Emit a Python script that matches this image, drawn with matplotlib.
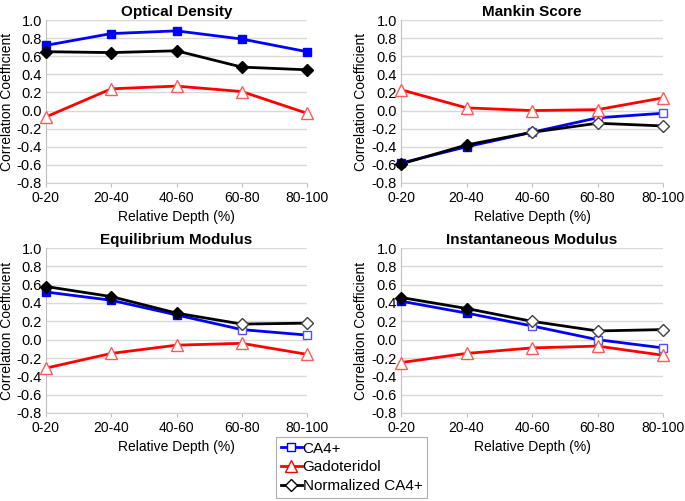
import matplotlib
matplotlib.use("Agg")
import matplotlib.pyplot as plt
from matplotlib.lines import Line2D

plt.rcParams['font.family'] = ['Liberation Sans', 'DejaVu Sans']

categories = ["0-20", "20-40", "40-60", "60-80", "80-100"]
titles = ["Optical Density", "Mankin Score", "Equilibrium Modulus", "Instantaneous Modulus"]

# values per panel
ca4 = [
    [0.72, 0.85, 0.88, 0.79, 0.65],
    [-0.58, -0.40, -0.24, -0.08, -0.03],
    [0.52, 0.43, 0.27, 0.11, 0.05],
    [0.42, 0.29, 0.15, 0.00, -0.09],
]
gado = [
    [-0.07, 0.24, 0.27, 0.21, -0.03],
    [0.23, 0.03, 0.00, 0.01, 0.14],
    [-0.31, -0.15, -0.06, -0.04, -0.16],
    [-0.25, -0.15, -0.09, -0.07, -0.17],
]
norm = [
    [0.65, 0.64, 0.66, 0.48, 0.45],
    [-0.59, -0.38, -0.24, -0.14, -0.17],
    [0.58, 0.47, 0.29, 0.17, 0.18],
    [0.46, 0.34, 0.20, 0.095, 0.11],
]
# significance (filled marker) flags
ca4_sig = [
    [1, 1, 1, 1, 1],
    [1, 1, 0, 0, 0],
    [1, 1, 1, 0, 0],
    [1, 1, 0, 0, 0],
]
gado_sig = [
    [0, 0, 0, 0, 0],
    [0, 0, 0, 0, 0],
    [0, 0, 0, 0, 0],
    [0, 0, 0, 0, 0],
]
norm_sig = [
    [1, 1, 1, 1, 1],
    [1, 1, 0, 0, 0],
    [1, 1, 1, 0, 0],
    [1, 1, 0, 0, 0],
]
yticks = [-0.8, -0.6, -0.4, -0.2, 0.0, 0.2, 0.4, 0.6, 0.8, 1.0]
legend_labels = ["CA4+", "Gadoteridol", "Normalized CA4+"]

W, H = 685, 501
fig = plt.figure(figsize=(W / 100, H / 100), dpi=100)

boxes = [
    (46, 20, 307, 183),
    (401, 20, 663, 183),
    (46, 248, 307, 413),
    (401, 248, 663, 413),
]

series_style = [
    # (color, marker, open-edge colour, size, zorder)
    ("#0000ff", "s", "#5050ff", 5.2, 3),
    ("#ff0000", "^", "#ff5a5a", 8, 3),
    ("#000000", "D", "#404040", 5.8, 4),
]

for i, (l, t, r, b) in enumerate(boxes):
    ax = fig.add_axes([l / W, 1 - b / H, (r - l) / W, (b - t) / H])
    x = list(range(len(categories)))
    for (vals, sig), (col, mk, ecol, ms, z) in zip(
        [(ca4[i], ca4_sig[i]), (gado[i], gado_sig[i]), (norm[i], norm_sig[i])],
        series_style,
    ):
        ax.plot(x, vals, color=col, lw=2, zorder=z)
        for xi, v, s in zip(x, vals, sig):
            if s:
                ax.plot(xi, v, marker=mk, ms=ms, mfc=col, mec=col, zorder=z + 0.5, clip_on=False)
            else:
                ax.plot(xi, v, marker=mk, ms=ms, mfc="white", mec=ecol, mew=1.0, zorder=z + 0.5, clip_on=False)
    ax.set_xlim(0, 4)
    ax.set_ylim(-0.8, 1.0)
    ax.set_yticks(yticks)
    ax.set_yticklabels([f"{v:.1f}" for v in yticks])
    ax.set_xticks(x)
    ax.set_xticklabels(categories)
    ax.tick_params(axis="y", length=0, labelsize=10.5, pad=3, colors="black")
    ax.tick_params(axis="x", length=3, width=0.8, color="#bfbfbf", labelsize=10, pad=3, labelcolor="black")
    ax.grid(axis="y", color="#d9d9d9", lw=1)
    ax.set_axisbelow(True)
    for sp in ["top", "right"]:
        ax.spines[sp].set_visible(False)
    ax.spines["left"].set_color("#bfbfbf")
    ax.spines["bottom"].set_color("#d0d0d0")
    ax.set_title(titles[i], fontsize=11, fontweight="bold", pad=3)
    ax.set_xlabel("Relative Depth (%)", fontsize=10, labelpad=3)
    ax.set_ylabel("Correlation Coefficient", fontsize=10)
    ylab_right = 14 if l < 200 else 368
    ax.yaxis.set_label_coords((ylab_right - l) / (r - l), 0.5)

handles = [
    Line2D([], [], color="#0000ff", lw=2, marker="s", ms=5.2, mfc="white", mec="#0000ff"),
    Line2D([], [], color="#ff0000", lw=2, marker="^", ms=8, mfc="white", mec="#ff0000"),
    Line2D([], [], color="#000000", lw=2, marker="D", ms=5.8, mfc="white", mec="#000000"),
]
leg = fig.legend(handles, legend_labels,
                 loc="upper left", bbox_to_anchor=(276 / W, 1 - 437 / H),
                 fontsize=11, frameon=True, fancybox=False, handlelength=1.4,
                 handletextpad=0.05, borderpad=0.3, labelspacing=0.32, borderaxespad=0)
leg.get_frame().set_edgecolor("#999999")
leg.get_frame().set_linewidth(0.8)

fig.savefig("out.png", dpi=100)
